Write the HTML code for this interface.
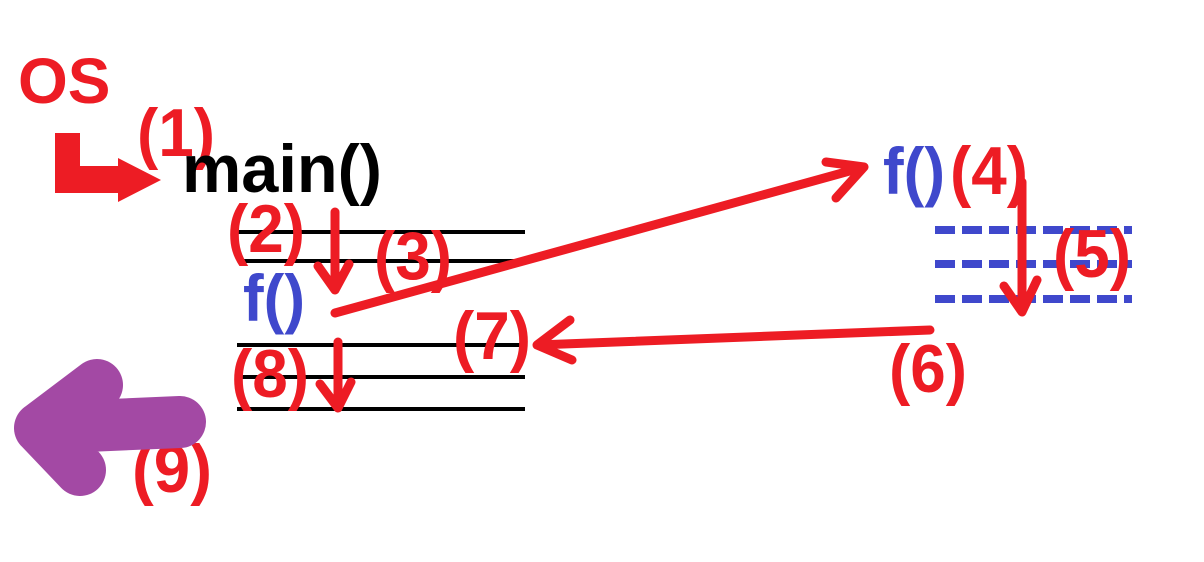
<!DOCTYPE html>
<html><head><meta charset="utf-8"><style>
html,body{margin:0;padding:0;background:#fff;}
svg{display:block;}
text{font-family:"Liberation Sans",Arial,sans-serif;font-weight:bold;}
</style></head><body>
<svg width="1204" height="562" viewBox="0 0 1204 562">
<text x="18" y="103" font-size="64" fill="#ed1c24">OS</text>
<polygon points="55,133 80,133 80,166 118,166 118,158 161,180 118,202 118,193 55,193" fill="#ed1c24"/>
<text x="137" y="156" font-size="68" fill="#ed1c24" textLength="78" lengthAdjust="spacingAndGlyphs">(1)</text>
<text x="182" y="192" font-size="68" fill="#000" textLength="200" lengthAdjust="spacingAndGlyphs">main()</text>

<g stroke="#000" stroke-width="4">
<line x1="238" y1="232" x2="525" y2="232"/>
<line x1="238" y1="261" x2="525" y2="261"/>
<line x1="237" y1="345" x2="525" y2="345"/>
<line x1="237" y1="377" x2="525" y2="377"/>
<line x1="237" y1="409" x2="525" y2="409"/>
</g>
<g stroke="#3f48cc" stroke-width="8" stroke-dasharray="20,7">
<line x1="935" y1="230" x2="1132" y2="230"/>
<line x1="935" y1="264" x2="1132" y2="264"/>
<line x1="935" y1="299" x2="1132" y2="299"/>
</g>

<text x="227" y="252" font-size="68" fill="#ed1c24" textLength="78" lengthAdjust="spacingAndGlyphs">(2)</text>
<text x="374" y="279" font-size="68" fill="#ed1c24" textLength="78" lengthAdjust="spacingAndGlyphs">(3)</text>
<text x="243" y="321" font-size="66" fill="#3f48cc" textLength="62" lengthAdjust="spacingAndGlyphs">f()</text>
<text x="883" y="194" font-size="66" fill="#3f48cc" textLength="62" lengthAdjust="spacingAndGlyphs">f()</text>
<text x="950" y="194" font-size="68" fill="#ed1c24" textLength="78" lengthAdjust="spacingAndGlyphs">(4)</text>
<text x="1053" y="277" font-size="68" fill="#ed1c24" textLength="78" lengthAdjust="spacingAndGlyphs">(5)</text>
<text x="889" y="392" font-size="68" fill="#ed1c24" textLength="78" lengthAdjust="spacingAndGlyphs">(6)</text>
<text x="453" y="359" font-size="68" fill="#ed1c24" textLength="78" lengthAdjust="spacingAndGlyphs">(7)</text>
<text x="231" y="397" font-size="68" fill="#ed1c24" textLength="78" lengthAdjust="spacingAndGlyphs">(8)</text>
<text x="132" y="492" font-size="68" fill="#ed1c24" textLength="80" lengthAdjust="spacingAndGlyphs">(9)</text>

<g fill="none" stroke="#ed1c24" stroke-width="9" stroke-linecap="round" stroke-linejoin="round">
<path d="M335,212 L335,288 M318,266 L335,290 L349,264"/>
<path d="M335,313 L864,167 M826,162 L864,167 L836,198"/>
<path d="M1022,182 L1022,312 M1004,286 L1022,312 L1037,280"/>
<path d="M930,330 L537,345 M570,320 L537,345 L572,360"/>
<path d="M338,342 L338,408 M320,384 L338,408 L351,382"/>
</g>
<path d="M180,422 L40,428 M97,385 L40,428 L80,470" fill="none" stroke="#a349a4" stroke-width="52" stroke-linecap="round" stroke-linejoin="round"/>
</svg>
</body></html>
